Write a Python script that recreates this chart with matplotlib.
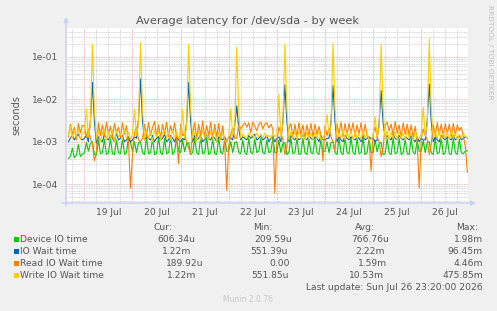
import numpy as np
import pandas as pd
import matplotlib
matplotlib.use("Agg")
import matplotlib.pyplot as plt
import matplotlib.dates as mdates
from matplotlib.patches import Rectangle
from matplotlib.ticker import LogLocator, FuncFormatter, NullFormatter

# latency in milliseconds, one sample per hour from Jul 18 16:00
device_io = [
    0.40, 0.45, 0.70, 0.42, 0.48, 0.85, 0.45, 0.50,
    0.55, 0.95, 0.60, 0.90, 1.00, 0.50, 0.48, 1.10, 0.52, 0.55, 1.15, 0.50,
    0.55, 1.20, 0.52, 0.50, 1.10, 0.55, 0.52, 1.20, 0.50, 0.55, 1.25, 0.95,
    0.60, 1.00, 0.55, 0.95, 1.00, 0.55, 0.50, 1.25, 0.52, 0.55, 1.20, 0.50,
    0.52, 1.30, 0.55, 0.50, 1.20, 0.52, 0.55, 1.30, 0.50, 0.58, 1.20, 0.60,
    0.55, 1.10, 0.58, 0.90, 0.95, 0.50, 0.55, 1.20, 0.55, 0.50, 1.30, 0.52,
    0.55, 1.25, 0.50, 0.55, 1.15, 0.52, 0.50, 1.25, 0.55, 0.52, 1.15, 0.60,
    0.60, 1.00, 0.55, 0.95, 1.00, 0.55, 0.52, 1.10, 0.55, 0.50, 1.20, 0.55,
    0.52, 1.15, 0.55, 0.60, 1.20, 0.55, 0.52, 1.10, 0.55, 0.58, 1.20, 0.55,
    0.55, 1.10, 0.55, 0.90, 0.95, 0.50, 0.55, 1.20, 0.52, 0.55, 1.25, 0.50,
    0.52, 1.20, 0.55, 0.50, 1.15, 0.55, 0.52, 1.20, 0.55, 0.50, 1.15, 0.55,
    0.60, 1.00, 0.55, 0.95, 1.00, 0.55, 0.50, 1.20, 0.55, 0.50, 1.30, 0.55,
    0.52, 1.25, 0.55, 0.50, 1.20, 0.52, 0.55, 1.25, 0.50, 0.55, 1.20, 0.55,
    0.55, 1.10, 0.58, 0.90, 0.95, 0.50, 0.52, 1.20, 0.55, 0.50, 1.25, 0.52,
    0.55, 1.20, 0.50, 0.55, 1.15, 0.52, 0.50, 1.20, 0.55, 0.52, 1.10, 0.60,
    0.60, 1.05, 0.55, 0.95, 1.00, 0.55, 0.50, 1.20, 0.52, 0.55, 1.25, 0.50,
    0.55, 1.20, 0.52, 0.50, 1.20, 0.55, 0.50, 1.15, 0.55, 0.52, 0.60, 0.61,
]
io_wait = [
    1.0, 1.2, 1.4, 1.1, 1.3, 1.5, 1.2, 1.1,
    1.2, 1.4, 1.0, 3.0, 25.0, 3.0, 0.9, 1.3, 1.1, 1.0, 1.5, 1.2,
    1.1, 1.4, 1.2, 1.0, 1.6, 1.1, 1.2, 1.4, 1.0, 1.1, 1.3, 1.0,
    1.1, 1.3, 1.2, 3.5, 30.0, 3.0, 1.1, 1.3, 1.2, 1.1, 1.4, 1.0,
    1.2, 1.3, 1.1, 1.2, 1.5, 1.0, 1.1, 1.4, 1.2, 1.0, 1.3, 1.1,
    1.0, 1.2, 1.1, 3.0, 25.0, 3.0, 1.0, 1.4, 1.1, 1.2, 1.5, 1.0,
    1.1, 1.5, 1.2, 1.1, 1.4, 1.2, 1.0, 1.3, 1.2, 1.1, 1.3, 1.0,
    1.3, 1.2, 1.1, 2.5, 7.0, 2.0, 1.1, 1.3, 1.2, 1.1, 1.4, 1.2,
    1.3, 1.5, 1.1, 1.2, 1.4, 1.1, 1.2, 1.4, 1.0, 1.2, 1.3, 1.0,
    1.2, 1.3, 1.0, 3.0, 22.0, 3.0, 1.0, 1.4, 1.2, 1.1, 1.3, 1.1,
    1.2, 1.5, 1.2, 1.1, 1.4, 1.2, 1.1, 1.3, 1.2, 1.0, 1.4, 1.1,
    1.1, 1.2, 1.2, 3.0, 21.0, 3.0, 1.0, 1.3, 1.1, 1.0, 1.4, 1.2,
    1.1, 1.3, 1.2, 1.1, 1.3, 1.2, 1.0, 1.4, 1.1, 1.2, 1.3, 1.2,
    1.2, 1.0, 1.1, 2.8, 16.0, 2.8, 1.2, 1.4, 1.2, 1.1, 1.5, 1.2,
    1.1, 1.4, 1.2, 1.1, 1.3, 1.2, 1.1, 1.4, 1.1, 1.0, 1.3, 1.0,
    1.2, 1.1, 1.1, 3.2, 23.0, 3.0, 1.0, 1.3, 1.1, 1.0, 1.4, 1.2,
    1.1, 1.3, 1.2, 1.1, 1.4, 1.1, 1.2, 1.4, 1.1, 1.2, 1.3, 1.22,
]
read_io_wait = [
    1.3, 2.6, 1.5, 2.2, 1.1, 2.7, 1.6, 2.4,
    2.4, 1.3, 2.0, 1.2, 0.9, 0.35, 0.6, 2.8, 1.4, 2.5, 1.3, 2.9,
    1.5, 2.3, 1.2, 2.7, 1.6, 2.2, 1.3, 2.8, 1.5, 2.4, 1.0, 0.08,
    0.5, 1.6, 2.2, 1.1, 1.0, 1.2, 2.6, 1.3, 2.9, 1.4, 2.2, 3.0,
    1.3, 2.5, 1.2, 2.6, 1.5, 2.9, 1.3, 2.4, 1.6, 2.8, 1.2, 0.3,
    2.6, 1.4, 1.5, 1.0, 0.7, 0.5, 1.5, 2.8, 1.2, 2.6, 1.4, 3.1,
    1.3, 2.4, 1.4, 2.9, 1.2, 2.6, 1.3, 2.7, 1.1, 2.4, 0.9, 0.07,
    0.8, 1.5, 2.1, 1.2, 1.2, 2.5, 2.0, 2.4, 2.8, 2.2, 2.8, 1.6,
    2.9, 2.3, 1.8, 2.6, 2.9, 2.0, 2.6, 2.8, 2.1, 2.6, 2.0, 0.06,
    1.0, 2.2, 1.6, 1.1, 0.5, 0.8, 2.0, 2.7, 1.3, 2.6, 1.3, 2.8,
    1.5, 2.5, 1.2, 2.5, 1.4, 2.7, 1.3, 2.6, 1.5, 2.3, 1.4, 0.35,
    2.4, 1.4, 2.0, 1.3, 1.0, 0.6, 2.6, 1.5, 2.9, 1.3, 2.7, 1.4,
    2.7, 1.6, 2.8, 1.3, 2.5, 1.5, 2.8, 1.3, 2.6, 1.4, 1.1, 0.2,
    1.5, 2.2, 1.3, 1.0, 0.45, 0.7, 2.4, 2.9, 1.8, 2.6, 1.4, 3.0,
    1.6, 2.5, 1.3, 2.8, 1.5, 2.6, 1.4, 2.5, 1.2, 2.3, 1.0, 0.08,
    1.2, 2.0, 1.4, 1.1, 0.5, 0.9, 2.5, 1.4, 2.8, 1.5, 2.6, 1.3,
    2.7, 1.5, 2.6, 1.3, 2.7, 1.4, 2.5, 1.8, 2.2, 1.3, 0.8, 0.19,
]
write_io_wait = [
    1.4, 2.3, 1.2, 1.9, 1.3, 2.1, 1.1, 1.6,
    1.6, 6.0, 1.3, 2.5, 200.0, 6.0, 1.2, 1.8, 1.0, 1.6, 2.0, 1.1,
    1.7, 1.2, 1.9, 1.0, 1.8, 1.3, 1.6, 1.1, 2.0, 1.2, 1.7, 1.1,
    1.5, 5.8, 1.4, 2.8, 220.0, 6.0, 1.1, 1.9, 1.2, 1.7, 1.0, 1.9,
    1.3, 1.8, 1.1, 1.6, 2.0, 1.2, 1.7, 1.1, 1.9, 1.2, 1.8, 1.2,
    1.4, 5.8, 1.2, 2.4, 200.0, 6.0, 1.2, 1.7, 1.0, 1.8, 1.1, 2.0,
    1.2, 1.6, 1.1, 1.8, 1.2, 1.9, 1.0, 1.7, 1.2, 1.6, 1.1, 1.0,
    1.3, 6.0, 1.4, 2.3, 170.0, 5.0, 1.2, 1.5, 1.3, 1.2, 1.6, 1.3,
    1.5, 1.2, 1.6, 1.3, 1.5, 1.2, 1.6, 1.3, 1.4, 1.2, 1.6, 1.3,
    1.5, 13.0, 1.3, 2.6, 200.0, 6.0, 1.1, 1.7, 1.2, 1.8, 1.1, 1.8,
    1.2, 1.6, 1.1, 1.7, 1.2, 1.6, 1.1, 1.7, 1.2, 1.8, 1.1, 1.2,
    1.6, 4.4, 1.5, 2.3, 210.0, 6.0, 1.2, 1.6, 1.2, 1.9, 1.1, 1.7,
    1.2, 1.8, 1.1, 1.7, 1.2, 1.6, 1.1, 1.8, 1.2, 1.6, 1.1, 1.1,
    1.4, 3.9, 1.3, 2.2, 200.0, 6.0, 1.1, 1.8, 1.1, 1.7, 1.2, 1.7,
    1.1, 1.8, 1.2, 1.6, 1.1, 1.8, 1.2, 1.6, 1.1, 1.7, 1.2, 1.2,
    1.5, 6.5, 1.4, 2.5, 270.0, 6.0, 1.2, 1.7, 1.2, 1.8, 1.1, 1.6,
    1.2, 1.7, 1.1, 1.8, 1.2, 1.6, 1.1, 1.5, 1.2, 1.6, 1.3, 1.22,
]

names = ["Device IO time", "IO Wait time", "Read IO Wait time", "Write IO Wait time"]
colors = ["#00CC00", "#0066B3", "#FF8000", "#FFCC00"]
cur_vals = ["606.34u", "1.22m", "189.92u", "1.22m"]
min_vals = ["209.59u", "551.39u", "0.00", "551.85u"]
avg_vals = ["766.76u", "2.22m", "1.59m", "10.53m"]
max_vals = ["1.98m", "96.45m", "4.46m", "475.85m"]

times = pd.date_range("2026-07-18 16:00", periods=len(device_io), freq="1h")
series = [device_io, io_wait, read_io_wait, write_io_wait]

W, H = 497, 311
txt = "#555555"
plt.rcParams["font.family"] = ["DejaVu Sans"]


def fp(x, y):
    return x / W, 1 - y / H


fig = plt.figure(figsize=(W / 100, H / 100), dpi=100, facecolor="#F0F0F0")
ax = fig.add_axes([67 / W, 1 - 203 / H, 401 / W, 175 / H])
ax.set_facecolor("white")

for vals, c in zip(series, colors):
    ax.plot(times, np.array(vals) * 1e-3, color=c, lw=0.8, solid_joinstyle="round")

ax.set_yscale("log")
ax.set_ylim(3.56e-5, 0.484)
ax.set_xlim(pd.Timestamp("2026-07-18 15:20"), pd.Timestamp("2026-07-26 23:20"))

ax.yaxis.set_major_locator(LogLocator(base=10, numticks=12))
ax.yaxis.set_minor_locator(LogLocator(base=10, subs=np.arange(2, 10), numticks=12))
ax.yaxis.set_major_formatter(FuncFormatter(lambda v, p: f"{v:.0e}"))
ax.yaxis.set_minor_formatter(NullFormatter())

ax.xaxis.set_major_locator(mdates.DayLocator())
ax.xaxis.set_major_formatter(NullFormatter())
ax.xaxis.set_minor_locator(mdates.HourLocator(byhour=[0, 6, 12, 18]))
ax.xaxis.set_minor_formatter(FuncFormatter(
    lambda v, p: mdates.num2date(v).strftime("%d %b") if mdates.num2date(v).hour == 12 else ""))

ax.grid(which="minor", color="#c8c8c8", ls=(0, (1, 1)), lw=0.6)
ax.grid(which="major", color="#e8a0a0", ls=(0, (1, 1)), lw=0.6)
ax.set_axisbelow(True)
ax.tick_params(which="both", length=0, labelsize=6.6, colors=txt)
ax.tick_params(axis="y", pad=6)
ax.tick_params(axis="x", pad=4)
for s in ax.spines.values():
    s.set_visible(False)

ax.set_ylabel("seconds", fontsize=7, color=txt, labelpad=8)

# axis arrows
arrow = dict(arrowstyle="-|>", color="#c8cff0", lw=1, mutation_scale=7, shrinkA=0, shrinkB=0)
ax.annotate("", xy=(66, H - 17), xytext=(66, H - 206), xycoords="figure pixels",
            textcoords="figure pixels", arrowprops=arrow, annotation_clip=False)
ax.annotate("", xy=(476, H - 203), xytext=(62, H - 203), xycoords="figure pixels",
            textcoords="figure pixels", arrowprops=arrow, annotation_clip=False)

fig.text(*fp(248, 21), "Average latency for /dev/sda - by week", ha="center", va="center",
         fontsize=8.2, color=txt)
fig.text(*fp(490, 5), "RRDTOOL / TOBI OETIKER", rotation=270, ha="center", va="top",
         fontsize=5.3, color="#c0c0c0")

# legend table
fs = 6.6
fig.text(*fp(153, 227), "Cur:", va="center", fontsize=fs, color=txt)
fig.text(*fp(253, 227), "Min:", va="center", fontsize=fs, color=txt)
fig.text(*fp(355, 227), "Avg:", va="center", fontsize=fs, color=txt)
fig.text(*fp(456, 227), "Max:", va="center", fontsize=fs, color=txt)
row_y = [239, 251, 263, 275]
cur_x = [157, 162, 166, 167]
min_x = [254, 250, 269, 251]
avg_x = [351, 355, 358, 349]
for i in range(4):
    y = row_y[i]
    x0, y0 = fp(14, y + 2.5)
    fig.add_artist(Rectangle((x0, y0), 5 / W, 5 / H, transform=fig.transFigure,
                             facecolor=colors[i], edgecolor="none"))
    fig.text(*fp(20, y), names[i], va="center", fontsize=fs, color=txt)
    fig.text(*fp(cur_x[i], y), cur_vals[i], va="center", fontsize=fs, color=txt)
    fig.text(*fp(min_x[i], y), min_vals[i], va="center", fontsize=fs, color=txt)
    fig.text(*fp(avg_x[i], y), avg_vals[i], va="center", fontsize=fs, color=txt)
    fig.text(*fp(483, y), max_vals[i], va="center", ha="right", fontsize=fs, color=txt)

fig.text(*fp(483, 288), "Last update: Sun Jul 26 23:20:00 2026", va="center", ha="right",
         fontsize=fs, color=txt)
fig.text(*fp(248, 299), "Munin 2.0.76", va="center", ha="center", fontsize=5.5, color="#c8c8c8")

fig.savefig("out.png", dpi=100, facecolor=fig.get_facecolor())
